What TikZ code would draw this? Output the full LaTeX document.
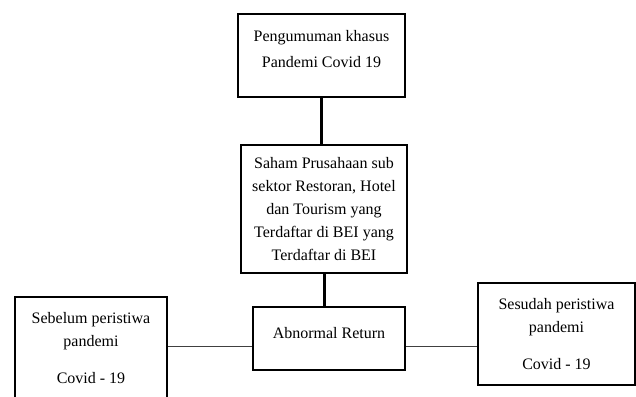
\documentclass[tikz,border=0pt]{standalone}
\usepackage{fontspec}
\setmainfont{Liberation Serif}
\usepackage{xcolor}
\usepackage{tikz}
\usetikzlibrary{positioning}

\begin{document}
\begin{tikzpicture}[
  x=1pt, y=1pt,
  font=\fontsize{16}{23}\selectfont,
  box/.style={draw, rectangle, line width=2.8pt, align=center, fill=white, inner sep=2pt},
  thickline/.style={line width=3pt},
  thinline/.style={line width=0.9pt, draw=black!75}
]
\clip (0,0) rectangle (636,396);
\fill[white] (0,0) rectangle (636,396);

\node[box, minimum width=167pt, minimum height=83pt] (umum) at (321.5,340.5) {Pengumuman khasus\\[3pt] Pandemi Covid 19\\[-9pt]\mbox{}};
\node[box, minimum width=166pt, minimum height=128pt] (saham) at (324,187) {Saham Prusahaan sub\\ sektor Restoran, Hotel\\ dan Tourism yang\\ Terdaftar di BEI yang\\ Terdaftar di BEI};
\node[box, minimum width=152pt, minimum height=63pt] (abnormal) at (329,57.5) {Abnormal Return\\[-12pt] \mbox{}};
\node[box, minimum width=152pt, minimum height=102pt] (sebelum) at (91,48) {Sebelum peristiwa\\ pandemi\\[14pt] Covid - 19};
\node[box, minimum width=157pt, minimum height=102pt] (sesudah) at (556.5,62) {Sesudah peristiwa\\ pandemi\\[14pt] Covid - 19};

\coordinate (garis) at (0,50);
\draw[thickline] (umum.south) -- (umum.south |- saham.north);
\draw[thickline] (saham.south) -- (saham.south |- abnormal.north);
\draw[thinline] (sebelum.east |- garis) -- (abnormal.west |- garis);
\draw[thinline] (abnormal.east |- garis) -- (sesudah.west |- garis);
\end{tikzpicture}
\end{document}
